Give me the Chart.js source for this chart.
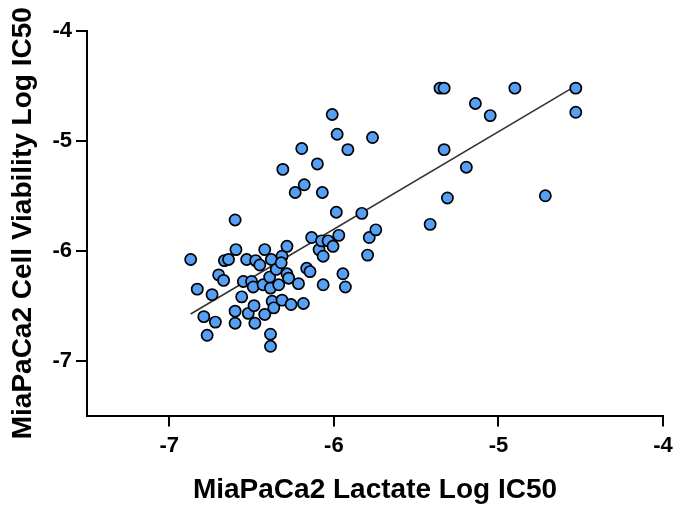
<!DOCTYPE html>
<html>
<head>
<meta charset="utf-8">
<script src="https://cdn.jsdelivr.net/npm/chart.js@4.4.0/dist/chart.umd.min.js"></script>
<style>
  html, body { margin: 0; padding: 0; background: #fff; }
  #wrap { width: 680px; height: 510px; }
</style>
</head>
<body>
<div id="wrap"><canvas id="scatterChart"></canvas></div>
<script>
// MiaPaCa2 lactate vs cell viability (Log IC50)
Chart.defaults.font.family = '"Liberation Sans", Arial, sans-serif';
Chart.defaults.color = '#000';

const lactateLogIC50 = [
  -6.87, -6.83, -6.79, -6.77, -6.74, -6.72, -6.70, -6.67, -6.665, -6.64,
  -6.60, -6.595, -6.60, -6.60, -6.56, -6.55, -6.53, -6.52, -6.50, -6.49,
  -6.485, -6.48, -6.475, -6.45, -6.43, -6.42, -6.42, -6.385, -6.385, -6.385,
  -6.38, -6.39, -6.375, -6.365, -6.35, -6.335, -6.315, -6.32, -6.315, -6.31,
  -6.285, -6.285, -6.275, -6.26, -6.235, -6.215, -6.195, -6.18, -6.185, -6.165,
  -6.145, -6.135, -6.10, -6.09, -6.075, -6.07, -6.065, -6.065, -6.035, -6.005,
  -6.01, -5.985, -5.98, -5.97, -5.945, -5.93, -5.915, -5.83, -5.795, -5.785,
  -5.765, -5.745, -5.415, -5.355, -5.33, -5.33, -5.31, -5.195, -5.14, -5.05,
  -4.90, -4.715, -4.53, -4.53
];
const viabilityLogIC50 = [
  -6.08, -6.35, -6.60, -6.77, -6.40, -6.65, -6.22, -6.27, -6.09, -6.08,
  -5.72, -5.99, -6.55, -6.66, -6.42, -6.28, -6.08, -6.57, -6.28, -6.33,
  -6.50, -6.66, -6.09, -6.13, -6.31, -5.99, -6.58, -6.76, -6.87, -6.34,
  -6.08, -6.24, -6.46, -6.52, -6.17, -6.31, -6.05, -6.11, -6.45, -5.26,
  -5.96, -6.21, -6.25, -6.49, -5.47, -6.30, -5.07, -5.40, -6.48, -6.16,
  -6.19, -5.88, -5.21, -5.99, -5.91, -5.47, -6.05, -6.31, -5.91, -5.96,
  -4.76, -5.65, -4.94, -5.86, -6.21, -6.33, -5.08, -5.66, -6.04, -5.88,
  -4.97, -5.81, -5.76, -4.52, -4.52, -5.08, -5.52, -5.24, -4.66, -4.77,
  -4.52, -5.50, -4.52, -4.74
];
const tickValues = [-7, -6, -5, -4];

const points = lactateLogIC50.map((x, i) => ({ x: x, y: viabilityLogIC50[i] }));

// least squares fit across the data range
function linearFit(xs, ys) {
  const n = xs.length;
  const mx = xs.reduce((a, b) => a + b, 0) / n;
  const my = ys.reduce((a, b) => a + b, 0) / n;
  let sxy = 0, sxx = 0;
  for (let i = 0; i < n; i++) {
    sxy += (xs[i] - mx) * (ys[i] - my);
    sxx += (xs[i] - mx) * (xs[i] - mx);
  }
  const slope = sxy / sxx;
  const x0 = Math.min(...xs), x1 = Math.max(...xs);
  return [
    { x: x0, y: my + slope * (x0 - mx) },
    { x: x1, y: my + slope * (x1 - mx) }
  ];
}
const fitLine = linearFit(lactateLogIC50, viabilityLogIC50);

const axisCommon = {
  type: 'linear',
  min: -7.5,
  max: -4,
  afterBuildTicks: function(scale) {
    scale.ticks = tickValues.map(v => ({ value: v }));
  },
  border: { display: true, color: '#000', width: 2 },
  grid: {
    drawOnChartArea: false,
    drawTicks: true,
    tickLength: 11,
    color: '#000',
    lineWidth: 2
  },
  ticks: {
    color: '#000',
    font: { size: 22, weight: 'bold' }
  },
  title: {
    display: true,
    color: '#000',
    font: { size: 28, weight: 'bold' }
  }
};

new Chart(document.getElementById('scatterChart'), {
  type: 'scatter',
  data: {
    datasets: [
      {
        label: 'Samples',
        data: points,
        backgroundColor: '#55A0F4',
        borderColor: '#000',
        borderWidth: 1.7,
        pointRadius: 5.6,
        order: 1
      },
      {
        label: 'Fit',
        type: 'line',
        data: fitLine,
        borderColor: '#333',
        borderWidth: 1.6,
        pointRadius: 0,
        fill: false,
        order: 2
      }
    ]
  },
  options: {
    responsive: true,
    maintainAspectRatio: false,
    animation: false,
    layout: { padding: { top: 31, right: 17, left: 0, bottom: 0 } },
    plugins: {
      legend: { display: false },
      tooltip: { enabled: false }
    },
    scales: {
      x: Object.assign({}, axisCommon, {
        position: 'bottom',
        ticks: Object.assign({}, axisCommon.ticks, { padding: 6 }),
        title: Object.assign({}, axisCommon.title, {
          text: 'MiaPaCa2 Lactate Log IC50',
          padding: { top: 0, bottom: 3 }
        }),
        afterFit: function(scale) { scale.height = 94.5; }
      }),
      y: Object.assign({}, axisCommon, {
        position: 'left',
        ticks: Object.assign({}, axisCommon.ticks, { padding: 4 }),
        title: Object.assign({}, axisCommon.title, {
          text: 'MiaPaCa2 Cell Viability Log IC50',
          padding: { top: 6, bottom: 0 }
        }),
        afterFit: function(scale) { scale.width = 87; }
      })
    }
  }
});
</script>
</body>
</html>
